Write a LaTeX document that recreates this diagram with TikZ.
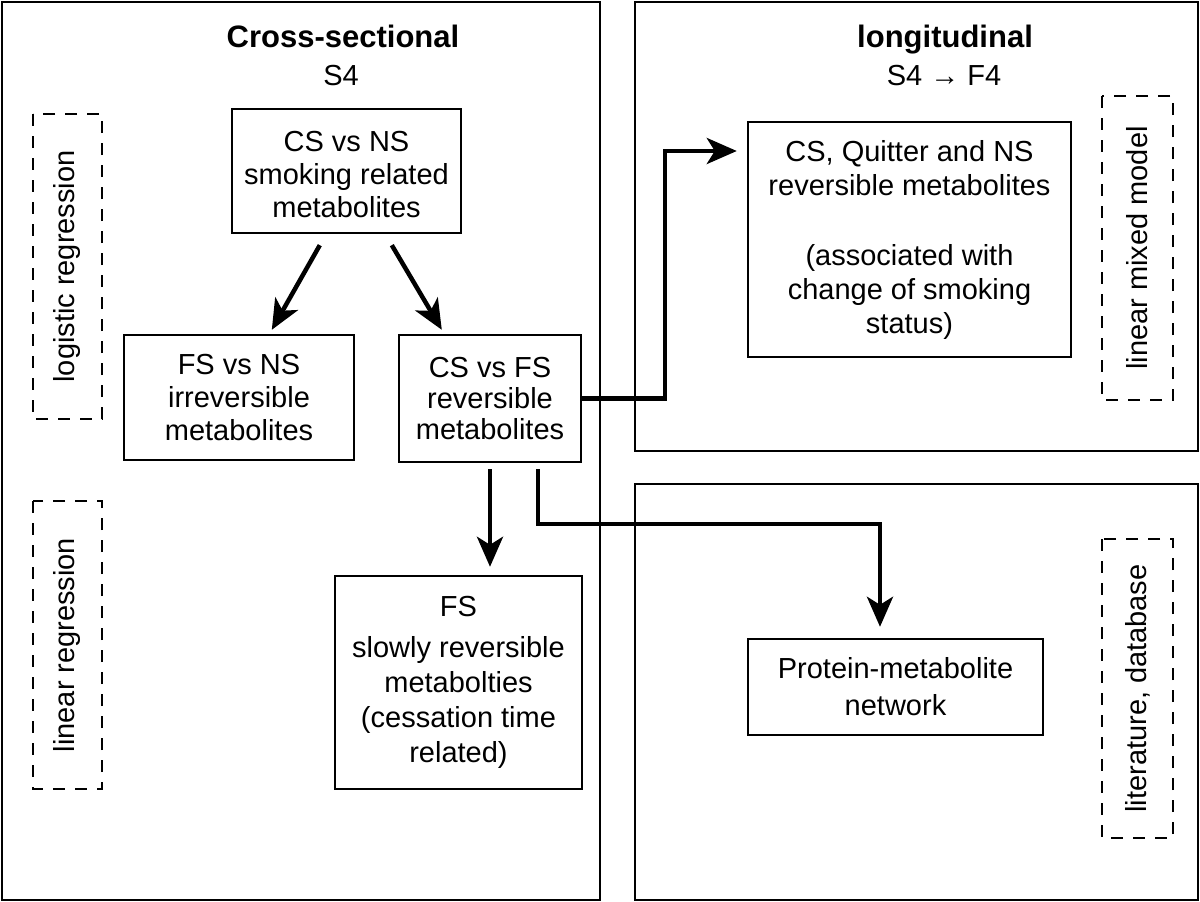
\documentclass[tikz,border=0pt]{standalone}
\usepackage{fontspec}
\setmainfont{Liberation Sans}
\usetikzlibrary{arrows.meta}
\begin{document}
\begin{tikzpicture}[x=1pt,y=-1pt,
  panel/.style={draw,line width=2.6pt,inner sep=0pt},
  box/.style={draw,line width=2.4pt,inner sep=0pt,align=center,font=\fontsize{29}{33}\selectfont},
  dbox/.style={draw,line width=2.4pt,dash pattern=on 12pt off 10pt,rotate=90,inner sep=0pt,font=\fontsize{29}{33}\selectfont},
  arr/.style={line width=4.5pt,-{Stealth[length=30pt,width=26pt,inset=8pt]}},
  ttl/.style={anchor=base,inner sep=0pt,font=\fontsize{29}{33}\selectfont}]
\useasboundingbox (0,0) rectangle (1200,902);
\fill[white] (0,0) rectangle (1200,902);
% panels
\node[panel,minimum width=598pt,minimum height=898pt] (P1) at (301,451) {};
\node[panel,minimum width=563pt,minimum height=449pt] (P2) at (916.5,226.5) {};
\node[panel,minimum width=563pt,minimum height=416pt] (P3) at (916.5,692) {};
% titles
\node[ttl,font=\fontsize{31}{33}\selectfont\bfseries] (t1) at (343,47) {Cross-sectional};
\node[ttl] (t1b) at (341,85) {S4};
\node[ttl,font=\fontsize{31}{33}\selectfont\bfseries] (t2) at (945,47) {longitudinal};
\node[ttl] (t2b) at (944,85) {S4 → F4};
% dashed method boxes
\node[dbox,minimum width=305pt,minimum height=69pt] (d1) at (67.5,266.5) {logistic regression};
\node[dbox,minimum width=288pt,minimum height=69pt] (d2) at (67.5,645) {linear regression};
\node[dbox,minimum width=304pt,minimum height=71pt] (d3) at (1137.5,248) {linear mixed model};
\node[dbox,minimum width=299pt,minimum height=71pt] (d4) at (1137.5,688.5) {literature, database};
% boxes
\node[box,minimum width=229pt,minimum height=124pt] (A) at (346.5,171) {\rule{0pt}{28pt}CS vs NS\\smoking related\\metabolites};
\node[box,minimum width=230pt,minimum height=125pt] (B) at (239,397.5) {FS vs NS\\irreversible\\metabolites};
\node[box,minimum width=182pt,minimum height=127pt,font=\fontsize{29}{31}\selectfont] (C) at (490,398.5) {CS vs FS\\reversible\\metabolites};
\node[box,minimum width=247pt,minimum height=213pt,font=\fontsize{29}{35}\selectfont] (D) at (458.5,682.5) {FS\\[6pt]slowly reversible\\metabolties\\(cessation time\\related)};
\node[box,minimum width=323pt,minimum height=235pt,font=\fontsize{29}{34}\selectfont] (E) at (909.5,239.5) {CS, Quitter and NS\\reversible metabolites\\[36pt](associated with\\change of smoking\\status)};
\node[box,minimum width=295pt,minimum height=96pt,font=\fontsize{29}{37}\selectfont] (F) at (895.5,687) {Protein-metabolite\\network};
% connectors
\coordinate (k1) at (665,151);
\coordinate (k2) at (880,524);
\draw[arr] ([xshift=89pt,yshift=-11pt]A.south west) -- ([xshift=149pt,yshift=4pt]B.north west);
\draw[arr] ([xshift=161pt,yshift=-11pt]A.south west) -- ([xshift=44pt,yshift=4pt]C.north west);
\draw[arr] ([yshift=-6pt]C.south) -- ([yshift=8pt]C.south |- D.north);
\draw[arr] ([xshift=48pt,yshift=-6pt]C.south) |- (k2) -- ([yshift=11pt]k2 |- F.north);
\draw[arr] (C.east) -| (k1) -- ([xshift=-10pt]E.west |- k1);
\end{tikzpicture}
\end{document}
